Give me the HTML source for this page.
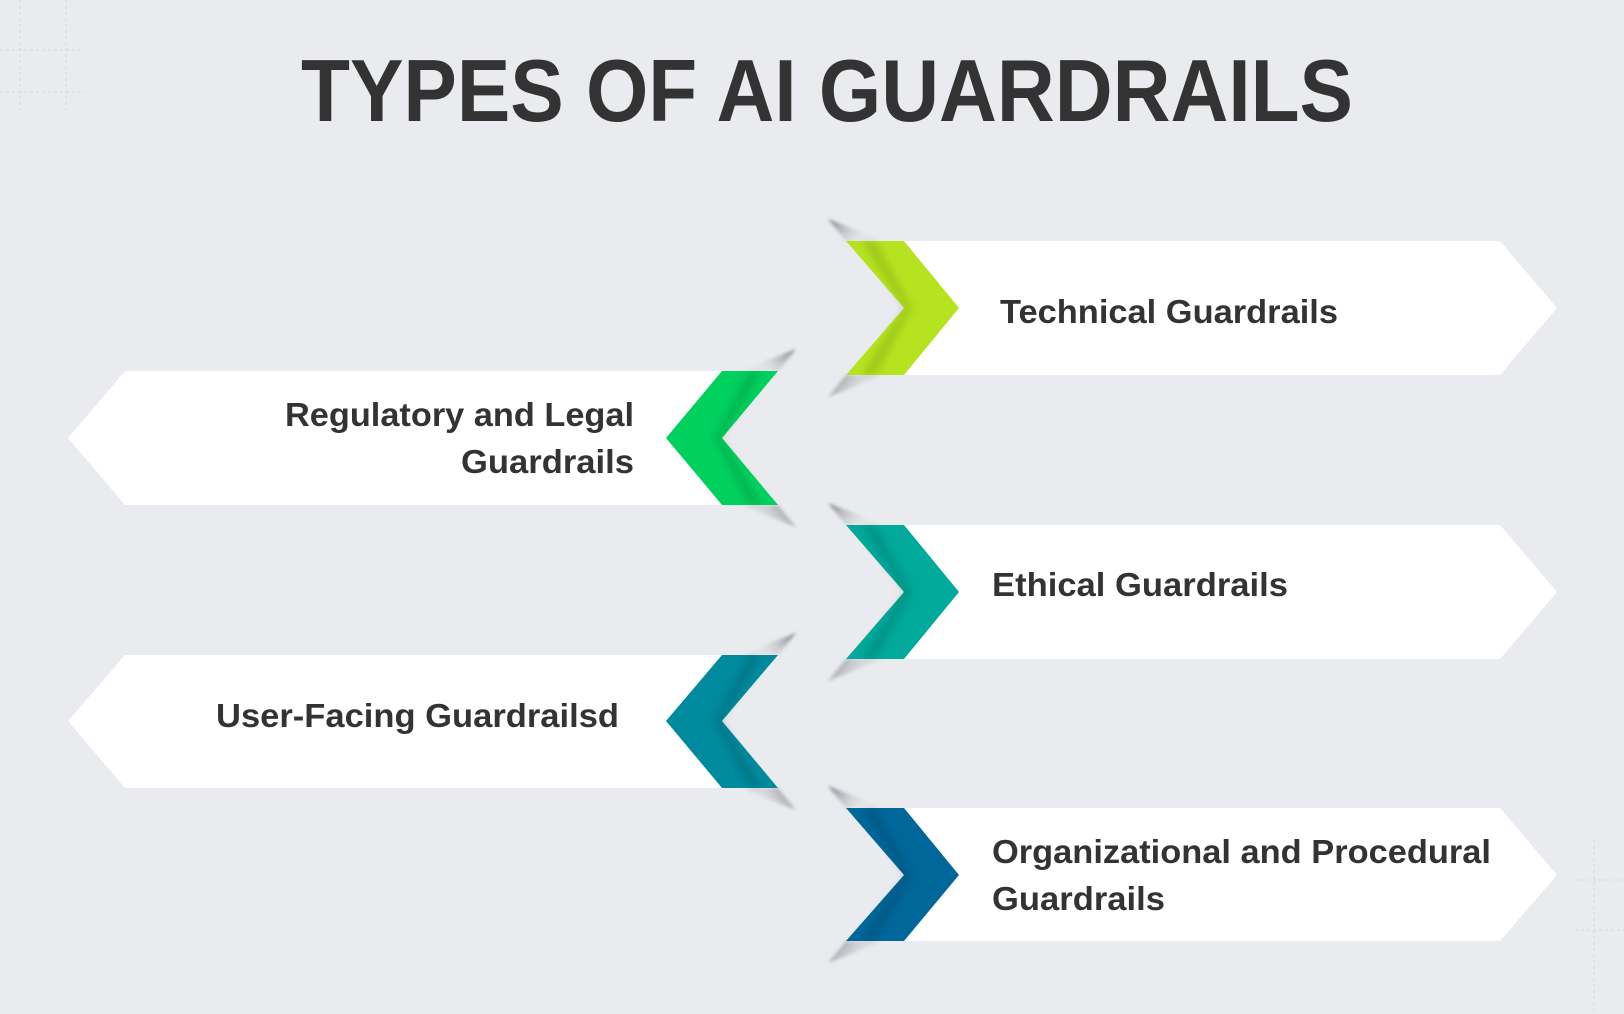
<!DOCTYPE html>
<html><head><meta charset="utf-8"><style>
html,body{margin:0;padding:0;background:#eaebef;}
svg{display:block;}
text{font-family:"Liberation Sans",sans-serif;font-weight:bold;fill:#333;}
</style></head><body>
<svg width="1624" height="1014" viewBox="0 0 1624 1014" xmlns="http://www.w3.org/2000/svg">
<defs>
<linearGradient id="sdT" x1="0" y1="0" x2="1" y2="0.3">
<stop offset="0" stop-color="#6f7178" stop-opacity="0.9"/>
<stop offset="1" stop-color="#eaebef" stop-opacity="0"/>
</linearGradient>
<linearGradient id="sdTL" x1="1" y1="0" x2="0" y2="0.3">
<stop offset="0" stop-color="#6f7178" stop-opacity="0.9"/>
<stop offset="1" stop-color="#eaebef" stop-opacity="0"/>
</linearGradient>
<filter id="bl"><feGaussianBlur stdDeviation="1.5"/></filter>
<filter id="bl2"><feGaussianBlur stdDeviation="4"/></filter>
</defs>
<rect width="1624" height="1014" fill="#eaebef"/>
<g stroke="#d6d8dd" stroke-dasharray="3 3" stroke-width="1" fill="none">
<line x1="0" y1="50" x2="85" y2="50"/><line x1="0" y1="92" x2="85" y2="92"/>
<line x1="20" y1="0" x2="20" y2="110"/><line x1="66" y1="0" x2="66" y2="110"/>
<line x1="1575" y1="880" x2="1624" y2="880"/><line x1="1575" y1="930" x2="1624" y2="930"/>
<line x1="1594" y1="840" x2="1594" y2="1014"/>
</g>
<text x="301" y="121" font-size="88" textLength="1052" lengthAdjust="spacingAndGlyphs">TYPES OF AI GUARDRAILS</text>

<!-- right row template: shadows -->
<g id="r1">
<polygon points="904,241 1500,241 1557,308 1500,375 904,375" fill="#fff"/>
<polygon points="828,219 846,241 885,241" fill="url(#sdT)" filter="url(#bl)"/>
<polygon points="828,397 846,375 885,375" fill="url(#sdT)" filter="url(#bl)"/>
<polygon points="846,241 904,241 959,308 904,375 846,375 904,308" fill="#b5e31f"/>
<polygon points="862,241 904,308 862,375 875,375 912,308 875,241" fill="#000" opacity="0.12" filter="url(#bl2)"/>
<text x="1000" y="323" font-size="33" textLength="338" lengthAdjust="spacingAndGlyphs">Technical Guardrails</text>
</g>
<g>
<polygon points="904,525 1500,525 1557,592 1500,659 904,659" fill="#fff"/>
<polygon points="828,503 846,525 885,525" fill="url(#sdT)" filter="url(#bl)"/>
<polygon points="828,681 846,659 885,659" fill="url(#sdT)" filter="url(#bl)"/>
<polygon points="846,525 904,525 959,592 904,659 846,659 904,592" fill="#00a99a"/>
<polygon points="862,525 904,592 862,659 875,659 912,592 875,525" fill="#000" opacity="0.12" filter="url(#bl2)"/>
<text x="992" y="596" font-size="33" textLength="296" lengthAdjust="spacingAndGlyphs">Ethical Guardrails</text>
</g>
<g>
<polygon points="904,808 1500,808 1557,875 1500,941 904,941" fill="#fff"/>
<polygon points="828,786 846,808 885,808" fill="url(#sdT)" filter="url(#bl)"/>
<polygon points="828,963 846,941 885,941" fill="url(#sdT)" filter="url(#bl)"/>
<polygon points="846,808 904,808 959,875 904,941 846,941 904,875" fill="#00679a"/>
<polygon points="862,808 904,875 862,941 875,941 912,875 875,808" fill="#000" opacity="0.12" filter="url(#bl2)"/>
<text x="992" y="863" font-size="33" textLength="499" lengthAdjust="spacingAndGlyphs">Organizational and Procedural</text>
<text x="992" y="910" font-size="33" textLength="173" lengthAdjust="spacingAndGlyphs">Guardrails</text>
</g>

<!-- Left rows -->
<g>
<polygon points="125,371 722,371 722,505 125,505 68,438" fill="#fff"/>
<polygon points="796,349 778,371 739,371" fill="url(#sdTL)" filter="url(#bl)"/>
<polygon points="796,527 778,505 739,505" fill="url(#sdTL)" filter="url(#bl)"/>
<polygon points="778,371 722,371 666,438 722,505 778,505 722,438" fill="#00d15e"/>
<polygon points="762,371 722,438 762,505 749,505 714,438 749,371" fill="#000" opacity="0.12" filter="url(#bl2)"/>
<text x="634" y="426" font-size="33" text-anchor="end" textLength="349" lengthAdjust="spacingAndGlyphs">Regulatory and Legal</text>
<text x="634" y="473" font-size="33" text-anchor="end" textLength="173" lengthAdjust="spacingAndGlyphs">Guardrails</text>
</g>
<g>
<polygon points="125,655 722,655 722,788 125,788 68,721" fill="#fff"/>
<polygon points="796,633 778,655 739,655" fill="url(#sdTL)" filter="url(#bl)"/>
<polygon points="796,810 778,788 739,788" fill="url(#sdTL)" filter="url(#bl)"/>
<polygon points="778,655 722,655 666,721 722,788 778,788 722,721" fill="#008a9e"/>
<polygon points="762,655 722,721 762,788 749,788 714,721 749,655" fill="#000" opacity="0.12" filter="url(#bl2)"/>
<text x="216" y="727" font-size="33" textLength="403" lengthAdjust="spacingAndGlyphs">User-Facing Guardrailsd</text>
</g>
</svg>
</body></html>
